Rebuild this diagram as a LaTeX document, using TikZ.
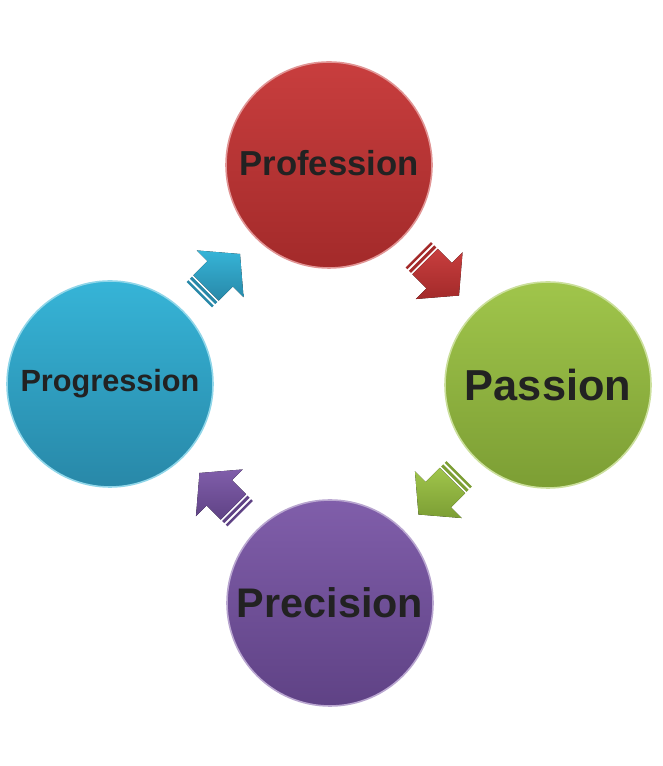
\documentclass[tikz,border=0pt]{standalone}
\usepackage{fontspec}
\setmainfont{Liberation Sans}
\usepackage{tikz}
\usetikzlibrary{calc}
\definecolor{profred}{RGB}{200,62,62}
\definecolor{profreddk}{RGB}{163,42,42}
\definecolor{passgreen}{RGB}{160,197,75}
\definecolor{passgreendk}{RGB}{124,158,52}
\definecolor{precpurple}{RGB}{128,94,170}
\definecolor{precpurpledk}{RGB}{95,66,133}
\definecolor{progblue}{RGB}{54,180,215}
\definecolor{progbluedk}{RGB}{40,136,168}
\definecolor{labelgray}{RGB}{34,34,34}

\tikzset{
  ball/.style={circle, minimum size=154.5pt, inner sep=0pt, text=labelgray,
    font=\bfseries, line width=1.2pt},
  pics/stripearrow/.style args={#1/#2}{code={
    % shaft and head
    \fill[top color=#1, bottom color=#2] (-19,-18) -- (1,-18) -- (1,-33) -- (29,0)
      -- (1,33) -- (1,18) -- (-19,18) -- cycle;
    % two stripes at the tail
    \fill[#2] (-24,-18) rectangle (-21,18);
    \fill[#2] (-28.5,-18) rectangle (-26,18);
  }}
}

\begin{document}
\begin{tikzpicture}[x=0.75pt, y=0.75pt]
\useasboundingbox (0,0) rectangle (662,766);
% the four balls
\node[ball, top color=profred, bottom color=profreddk, draw=profred!55!white]
  (prof) at (329,601) {\raisebox{3pt}{\fontsize{26}{30}\selectfont Profession}};
\node[ball, top color=passgreen, bottom color=passgreendk, draw=passgreen!55!white]
  (pass) at (548,381) {\fontsize{32.5}{36}\selectfont Passion};
\node[ball, top color=precpurple, bottom color=precpurpledk, draw=precpurple!55!white]
  (prec) at (330,163) {\fontsize{31}{35}\selectfont Precision};
\node[ball, top color=progblue, bottom color=progbluedk, draw=progblue!55!white]
  (prog) at (110,382) {\fontsize{23}{27}\selectfont Progression};
% arrows between them
\pic[rotate=-45] at ($(prof)!0.5!(pass)$) {stripearrow=profred/profreddk};
\pic[rotate=-135] at ($(pass)!0.5!(prec)$) {stripearrow=passgreen/passgreendk};
\pic[rotate=135] at ($(prec)!0.5!(prog)$) {stripearrow=precpurple/precpurpledk};
\pic[rotate=45] at ($(prog)!0.5!(prof)$) {stripearrow=progblue/progbluedk};
\end{tikzpicture}
\end{document}
